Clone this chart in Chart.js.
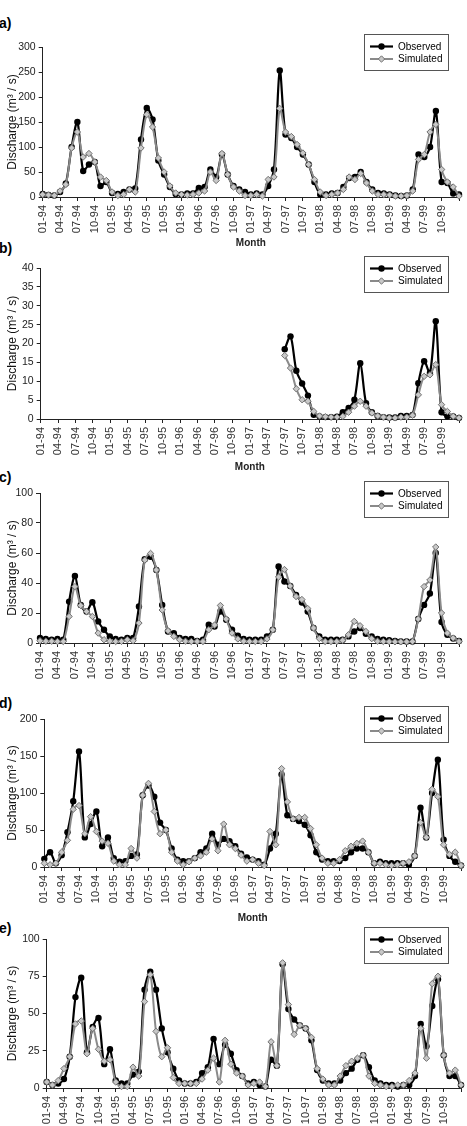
<!DOCTYPE html>
<html>
<head>
<meta charset="utf-8">
<script src="https://cdn.jsdelivr.net/npm/chart.js@4.4.1/dist/chart.umd.min.js"></script>
<style>
  html, body { margin: 0; padding: 0; background: #fff; }
  #page { position: relative; width: 467px; height: 1126px; overflow: hidden; font-family: "Liberation Sans", Arial, sans-serif; }
  canvas { position: absolute; left: 0; }
  .tag { position: absolute; left: -1px; font-weight: bold; font-size: 14px; line-height: 16px; color: #000; }
</style>
</head>
<body>
<div id="page">
  <div class="tag" style="top:15px">a)</div>
  <div class="tag" style="top:240px">b)</div>
  <div class="tag" style="top:469px">c)</div>
  <div class="tag" style="top:695px">d)</div>
  <div class="tag" style="top:920px">e)</div>
  <canvas id="chartA" width="467" height="252" style="top:0px"></canvas>
  <canvas id="chartB" width="467" height="224" style="top:252px"></canvas>
  <canvas id="chartC" width="467" height="214" style="top:476px"></canvas>
  <canvas id="chartD" width="467" height="237" style="top:690px"></canvas>
  <canvas id="chartE" width="467" height="208" style="top:918px"></canvas>
</div>
<script>
// months 01-94 .. 01-00, a label every third month
const years = ['94', '95', '96', '97', '98', '99']
const tickLabels = ['01-94', '04-94', '07-94', '10-94', '01-95', '04-95', '07-95', '10-95',
  '01-96', '04-96', '07-96', '10-96', '01-97', '04-97', '07-97', '10-97',
  '01-98', '04-98', '07-98', '10-98', '01-99', '04-99', '07-99', '10-99']

const months = []
years.forEach(y => {
  for (let m = 1; m <= 12; m++) months.push(String(m).padStart(2, '0') + '-' + y)
})
months.push('01-00')

// (a)
const obsA = [6, 4, 3, 10, 27, 100, 150, 52, 65, 70, 22, 30, 8, 6, 10, 15, 17, 115, 178, 155, 73, 45, 20, 6,
  5, 7, 7, 18, 20, 55, 40, 85, 45, 22, 15, 10, 5, 7, 5, 22, 55, 253, 125, 118, 100, 85, 65, 30,
  5, 5, 7, 8, 20, 38, 40, 50, 30, 15, 8, 7, 5, 3, 2, 3, 15, 85, 80, 100, 172, 30, 28, 7, 5]
const simA = [5, 4, 3, 12, 25, 98, 130, 80, 87, 70, 40, 33, 10, 3, 5, 15, 10, 98, 165, 140, 78, 50, 22, 8,
  5, 4, 5, 8, 12, 50, 33, 87, 45, 20, 12, 3, 3, 5, 2, 35, 40, 177, 130, 121, 105, 88, 65, 35,
  10, 3, 5, 8, 15, 40, 35, 47, 28, 12, 5, 5, 4, 2, 2, 3, 12, 75, 85, 130, 145, 55, 30, 20, 2]

// (b) record starts 07-97
const obsB = [null, null, null, null, null, null, null, null, null, null, null, null,
  null, null, null, null, null, null, null, null, null, null, null, null,
  null, null, null, null, null, null, null, null, null, null, null, null,
  null, null, null, null, null, null, 18.5, 21.9, 12.8, 9.4, 6.2, 1.1,
  0.7, 0.5, 0.5, 0.6, 1.8, 2.9, 5.1, 14.8, 4.2, 1.8, 0.8, 0.5,
  0.4, 0.4, 0.8, 0.8, 1.1, 9.5, 15.3, 12.2, 25.9, 1.8, 0.7, 0.7, 0.3]
const simB = [null, null, null, null, null, null, null, null, null, null, null, null,
  null, null, null, null, null, null, null, null, null, null, null, null,
  null, null, null, null, null, null, null, null, null, null, null, null,
  null, null, null, null, null, null, 16.8, 13.5, 8, 5.1, 4.7, 2,
  0.8, 0.6, 0.5, 0.5, 0.7, 1.8, 3.4, 4.7, 3.4, 1.6, 0.8, 0.5,
  0.3, 0.3, 0.5, 0.5, 1, 6.4, 11.3, 11.7, 14.4, 3.8, 2, 0.7, 0.3]

// (c)
const obsC = [3.3, 2.7, 2.2, 2.7, 2.2, 27.6, 44.7, 25.4, 21, 27.2, 14.4, 8.8, 4.4, 2.7, 2.2, 3.3, 3.3, 24.3, 55.8, 57.5, 48.7, 25.4, 7.7, 6.6,
  3.3, 2.7, 2.7, 1.3, 2.2, 12.2, 11, 21, 15.5, 8.8, 4.9, 2.7, 2.2, 2.2, 2.2, 4.4, 8.8, 51, 41, 38, 32, 27, 21, 10,
  4.4, 2.2, 2.2, 2.2, 2.2, 4.4, 7.7, 10, 6.2, 4.4, 2.7, 2.2, 1.8, 1.3, 1.1, 1, 1, 16, 25.4, 33, 60, 14, 5.5, 3, 1.3]
const simC = [1.5, 1.2, 1.2, 1, 1, 17.7, 37.6, 25, 21, 17.7, 6.6, 2.2, 1.2, 1, 1.1, 2.2, 1.5, 13.3, 55.3, 59.7, 48.7, 22, 8.2, 4.4,
  2.2, 1.2, 1, 1, 1, 8.8, 12, 25, 16, 6.6, 2.7, 1.2, 1, 1, 1, 2.7, 8.8, 44, 49, 38, 31, 29, 23, 10,
  3, 1, 1, 1, 1.8, 5.5, 14.4, 11.5, 7.7, 2.9, 1.2, 1, 0.9, 0.8, 0.8, 0.8, 1, 16, 37.6, 42, 64, 20, 6.6, 3.3, 1]

// (d)
const obsD = [11, 20, 5, 16, 47, 89, 156, 40, 58, 75, 28, 40, 12, 7, 8, 15, 17, 97, 110, 95, 60, 50, 25, 10,
  8, 8, 12, 20, 25, 45, 30, 38, 35, 28, 18, 13, 10, 8, 3, 25, 45, 125, 70, 65, 62, 57, 43, 20,
  10, 8, 8, 8, 12, 20, 25, 25, 20, 5, 7, 5, 5, 5, 5, 3, 15, 80, 40, 100, 145, 37, 15, 7, 2]
const simD = [5, 3, 5, 20, 36, 78, 83, 45, 68, 48, 35, 32, 8, 3, 3, 25, 12, 97, 113, 75, 45, 50, 20, 8,
  3, 7, 12, 15, 20, 38, 22, 58, 30, 25, 16, 8, 10, 5, 2, 48, 30, 133, 88, 65, 67, 67, 52, 30,
  12, 5, 5, 10, 22, 28, 32, 35, 20, 5, 5, 3, 2, 3, 5, 7, 15, 60, 40, 105, 95, 30, 17, 20, 2]

// (e)
const obsE = [4, 2, 3, 6, 21, 61, 74, 24, 41, 47, 16, 26, 5, 3, 3, 9, 11, 66, 78, 66, 40, 24, 13, 5,
  3, 3, 4, 10, 14, 33, 16, 29, 23, 12, 8, 3, 4, 2, 1, 19, 15, 83, 53, 46, 42, 40, 32, 12,
  5, 3, 3, 5, 10, 13, 19, 22, 14, 5, 3, 2, 2, 1, 2, 2, 8, 43, 28, 55, 73, 22, 8, 8, 2]
const simE = [4, 2, 5, 13, 21, 43, 45, 23, 40, 26, 18, 19, 4, 1, 1, 14, 8, 58, 76, 38, 21, 27, 7, 3,
  3, 3, 3, 6, 12, 20, 4, 32, 16, 10, 8, 2, 3, 4, 1, 31, 15, 84, 56, 36, 42, 40, 34, 13,
  6, 2, 2, 8, 15, 18, 20, 22, 8, 3, 2, 1, 1, 2, 2, 5, 10, 40, 20, 70, 75, 22, 10, 12, 2]

const FONT = '"Liberation Sans", Arial, sans-serif'
const GRAY = '#8a8a8a'

const panels = [
  { id: 'chartA', obs: obsA, sim: simA, max: 300, step: 50, axisX: 42.7, right: 8, top: 47, xHeight: 55, month: true, legendY: 34 },
  { id: 'chartB', obs: obsB, sim: simB, max: 40, step: 5, axisX: 40.7, right: 8, top: 16, xHeight: 57, month: true, legendY: 4 },
  { id: 'chartC', obs: obsC, sim: simC, max: 100, step: 20, axisX: 40, right: 8, top: 17, xHeight: 47, month: false, legendY: 5 },
  { id: 'chartD', obs: obsD, sim: simD, max: 200, step: 50, axisX: 44.3, right: 6, top: 29, xHeight: 60, month: true, legendY: 16 },
  { id: 'chartE', obs: obsE, sim: simE, max: 100, step: 25, axisX: 46.7, right: 6, top: 21, xHeight: 38, month: false, legendY: 9 },
]

function drawMarker(ctx, style, x, y) {
  ctx.beginPath()
  if (style === 'circle') {
    ctx.arc(x, y, 3.2, 0, Math.PI * 2)
    ctx.fillStyle = '#000'
    ctx.fill()
  } else {
    ctx.moveTo(x, y - 3.2)
    ctx.lineTo(x + 3.2, y)
    ctx.lineTo(x, y + 3.2)
    ctx.lineTo(x - 3.2, y)
    ctx.closePath()
    ctx.fillStyle = '#c8c8c8'
    ctx.fill()
    ctx.strokeStyle = '#707070'
    ctx.lineWidth = 1
    ctx.stroke()
  }
}

// boxed legend in the top right corner, like the spreadsheet one
const boxLegend = {
  id: 'boxLegend',
  afterDraw(chart, args, opts) {
    const ctx = chart.ctx
    const x = 364
    const y = opts.y
    ctx.save()
    ctx.strokeStyle = '#555'
    ctx.lineWidth = 1
    ctx.strokeRect(x + 0.5, y + 0.5, 84, 36)
    const rows = [
      { label: 'Observed', color: '#000', width: 2.2, marker: 'circle' },
      { label: 'Simulated', color: GRAY, width: 2, marker: 'diamond' },
    ]
    rows.forEach((r, k) => {
      const ly = y + 12.5 + k * 12.5
      ctx.beginPath()
      ctx.moveTo(x + 6, ly)
      ctx.lineTo(x + 29, ly)
      ctx.strokeStyle = r.color
      ctx.lineWidth = r.width
      ctx.stroke()
      drawMarker(ctx, r.marker, x + 17.5, ly)
      ctx.fillStyle = '#000'
      ctx.font = '10px ' + FONT
      ctx.textBaseline = 'middle'
      ctx.textAlign = 'left'
      ctx.fillText(r.label, x + 34, ly + 0.5)
    })
    ctx.restore()
  },
}

function makeChart(p) {
  const ctx = document.getElementById(p.id).getContext('2d')
  return new Chart(ctx, {
    type: 'line',
    data: {
      labels: months,
      datasets: [
        {
          label: 'Simulated',
          data: p.sim,
          order: 0,
          borderColor: GRAY,
          borderWidth: 2,
          tension: 0.3,
          pointStyle: 'rectRot',
          pointRadius: 3.2,
          pointBackgroundColor: '#c8c8c8',
          pointBorderColor: '#707070',
          pointBorderWidth: 1,
          clip: false,
        },
        {
          label: 'Observed',
          data: p.obs,
          order: 1,
          borderColor: '#000',
          borderWidth: 2.2,
          tension: 0.3,
          pointStyle: 'circle',
          pointRadius: 3.2,
          pointBackgroundColor: '#000',
          pointBorderColor: '#000',
          pointBorderWidth: 0,
          clip: false,
        },
      ],
    },
    options: {
      responsive: false,
      animation: false,
      devicePixelRatio: 1,
      layout: { padding: { top: p.top, right: p.right, left: 0, bottom: 0 } },
      plugins: {
        legend: { display: false },
        tooltip: { enabled: false },
        boxLegend: { y: p.legendY },
      },
      scales: {
        x: {
          type: 'category',
          offset: false,
          border: { display: true, color: '#222', width: 1 },
          grid: {
            drawOnChartArea: false,
            drawTicks: true,
            tickLength: 4,
            color: c => (c.index % 3 === 0 ? '#222' : 'rgba(0,0,0,0)'),
          },
          ticks: {
            autoSkip: false,
            minRotation: 90,
            maxRotation: 90,
            padding: 4,
            color: '#333',
            font: { family: FONT, size: 11 },
            callback: (v, i) => (i % 3 === 0 && i < 72 ? tickLabels[i / 3] : ''),
          },
          title: {
            display: p.month,
            text: 'Month',
            color: '#222',
            font: { family: FONT, size: 10, weight: 'bold' },
            padding: { top: 0, bottom: 3 },
          },
          afterFit: s => {
            s.height = p.xHeight
            s.paddingLeft = 0
            s.paddingRight = 0
          },
        },
        y: {
          min: 0,
          max: p.max,
          border: { display: true, color: '#222', width: 1 },
          grid: { drawOnChartArea: false, drawTicks: true, tickLength: 4, color: '#222' },
          ticks: {
            stepSize: p.step,
            padding: 3,
            color: '#222',
            font: { family: FONT, size: 10.5 },
          },
          title: {
            display: true,
            text: 'Discharge (m³ / s)',
            color: '#111',
            font: { family: FONT, size: 12 },
            padding: { top: 5, bottom: 0 },
          },
          afterFit: s => {
            s.width = p.axisX
          },
        },
      },
    },
    plugins: [boxLegend],
  })
}

panels.forEach(makeChart)
</script>
</body>
</html>
